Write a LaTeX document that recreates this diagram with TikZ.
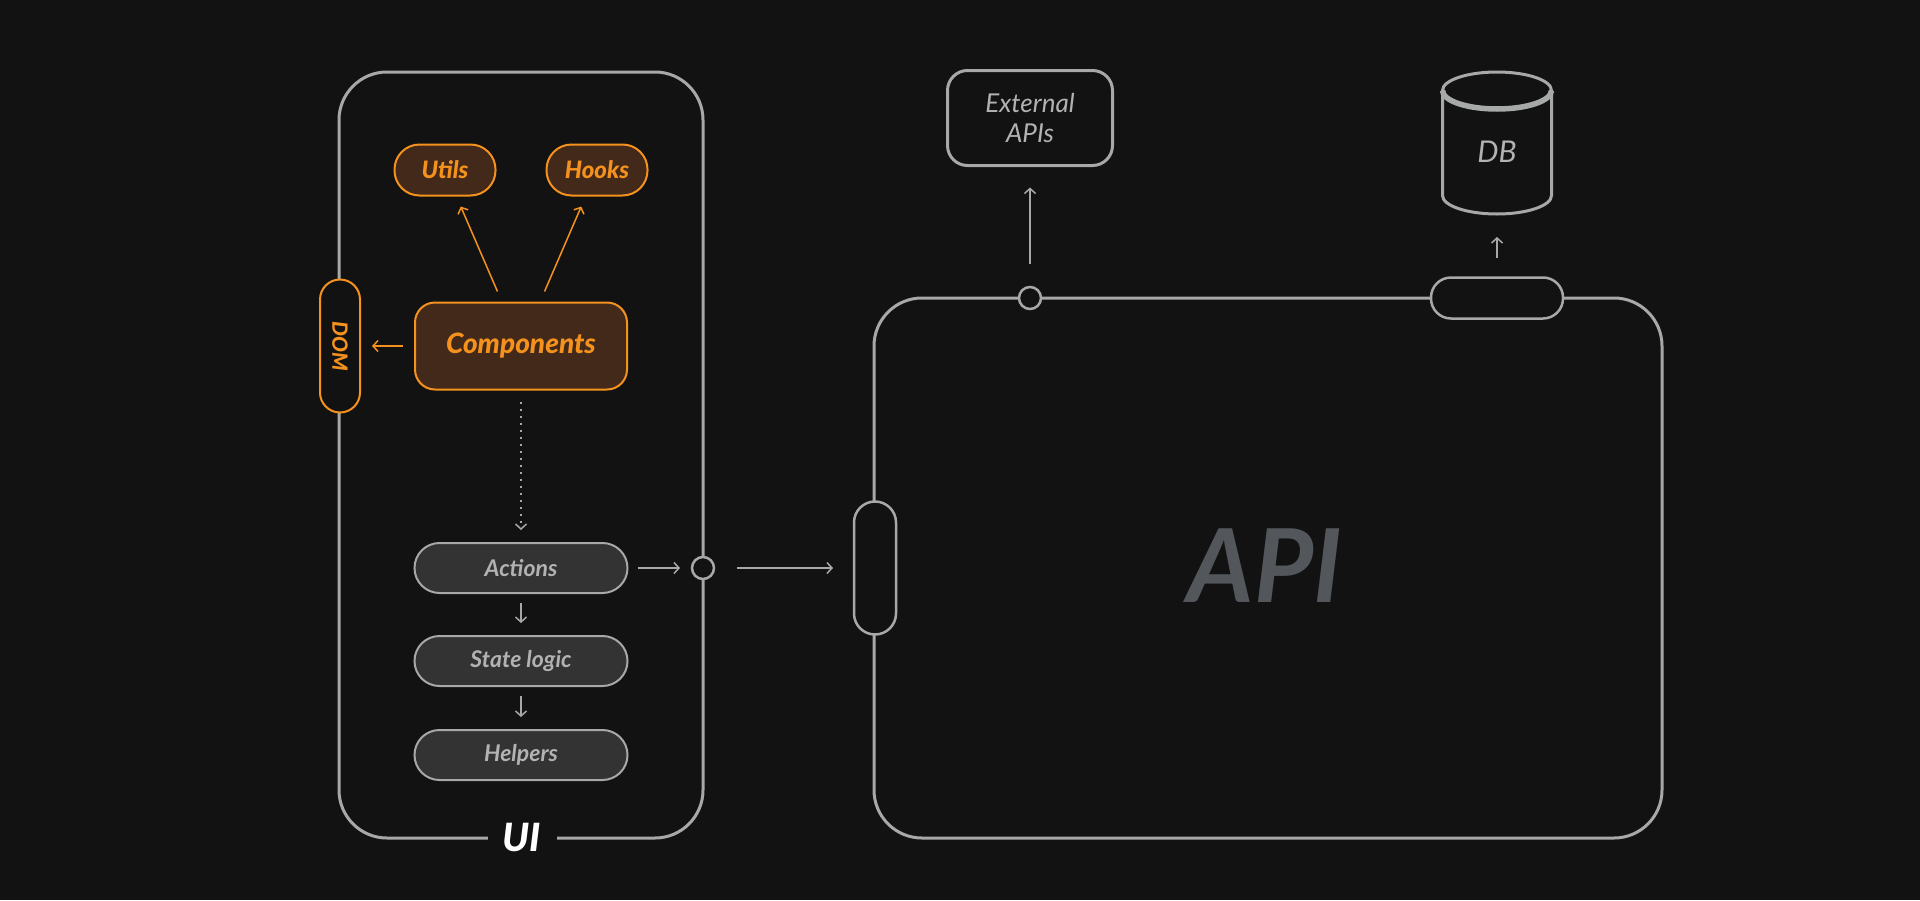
\documentclass[tikz,border=0pt]{standalone}
\usepackage{fontspec}
\setmainfont{Lato}
\IfFontExistsTF{Lato Black}{\newfontfamily\heavyfont{Lato Black}}{\newcommand\heavyfont{\bfseries}}
\usepackage{graphicx}
\usepackage{tikz}
\usetikzlibrary{arrows.meta, positioning}
\definecolor{arch-bg}{HTML}{121212}
\definecolor{arch-line}{HTML}{A7A9A8}
\definecolor{arch-orange}{HTML}{F5921E}
\definecolor{arch-brown}{HTML}{43291A}
\definecolor{arch-box}{HTML}{333333}
\definecolor{arch-text}{HTML}{B2B2B2}
\definecolor{arch-api}{HTML}{53575C}

\begin{document}
\begin{tikzpicture}[x=1pt, y=-1pt,
		frame/.style={
			draw=arch-line, line width=3pt,
			rounded corners=48pt
		},
		orangebox/.style={
			draw=arch-orange, fill=arch-brown,
			line width=2pt, inner sep=0pt, outer sep=0pt,
			text=arch-orange,
			font=\fontsize{24}{28}\selectfont\heavyfont\itshape
		},
		graybox/.style={
			draw=arch-line, fill=arch-box,
			line width=2pt, inner sep=0pt, outer sep=0pt,
			rounded corners=25pt,
			minimum width=213pt, minimum height=50pt,
			text=arch-text,
			font=\fontsize{23}{27}\selectfont\bfseries\itshape
		},
		pill/.style={
			draw=arch-line, fill=arch-bg,
			line width=2.5pt, inner sep=0pt, outer sep=0pt
		},
		port/.style={
			circle, draw=arch-line, fill=arch-bg,
			line width=2.5pt, minimum size=22pt,
			inner sep=0pt, outer sep=0pt
		},
		oarr/.style={
			-{Straight Barb[length=5pt,width=11pt]},
			draw=arch-orange, line width=1.5pt
		},
		garr/.style={
			-{Straight Barb[length=5pt,width=11pt]},
			draw=arch-line, line width=1.5pt
		}
		]
		
		% background
		\fill[arch-bg] (0,0) rectangle (1920,900);
		\useasboundingbox (0,0) rectangle (1920,900);
		
		% the two frames
		\draw[frame] (339,72) rectangle (703,838);
		\draw[frame] (874,298) rectangle (1662,838);
		
		% UI side
		\node[orangebox, rounded corners=25pt, minimum width=101pt, minimum height=51pt] (utils) at (445,170) {Utils};
		\node[orangebox, rounded corners=25pt, minimum width=101pt, minimum height=51pt] (hooks) at (597,170) {Hooks};
		\node[orangebox, rounded corners=20pt, minimum width=212pt, minimum height=87pt,
		font=\fontsize{28}{32}\selectfont\heavyfont\itshape] (comp) at (521,346) {Components};
		\node[orangebox, fill=arch-bg, rounded corners=20pt, minimum width=40pt, minimum height=133pt,
		font=\fontsize{21}{24}\selectfont\heavyfont\itshape] (dom) at (340,346) {\rotatebox{-90}{DOM}};
		
		\node[graybox] (actions) at (521,568) {Actions};
		\node[graybox] (state) at (521,661) {State logic};
		\node[graybox] (helpers) at (521,755) {Helpers};
		
		\node[port] (uiport) at (703,568) {};
		\node[fill=arch-bg, text=white, minimum width=69pt, inner sep=0pt,
		font=\fontsize{39}{42}\selectfont\heavyfont\itshape] (uilabel) at (522,837) {UI};
		
		% API side
		\node[pill, rounded corners=21pt, minimum width=42pt, minimum height=133pt] (apiin) at (875,568) {};
		\node[port] (topport) at (1030,298) {};
		\node[pill, rounded corners=20pt, minimum width=132pt, minimum height=41pt] (dbport) at (1497,298) {};
		\node[text=arch-api, font=\fontsize{102}{110}\selectfont\bfseries\itshape] (apilabel) at (1265,566) {API};
		
		% external services
		\node[draw=arch-line, line width=3pt, rounded corners=20pt,
		minimum width=165pt, minimum height=95pt, inner sep=0pt, outer sep=0pt,
		align=center, text=arch-text,
		font=\fontsize{26}{30}\selectfont\itshape] (ext) at (1030,118) {External\\APIs};
		
		\draw[arch-line, line width=3pt] (1442.5,90.5) -- (1442.5,195.5)
		arc[start angle=180, end angle=360, x radius=54.5pt, y radius=18.5pt] -- (1551.5,90.5);
		\draw[arch-line, line width=3pt] (1497,90.5) ellipse [x radius=54.5pt, y radius=18.5pt];
		\draw[arch-line, line width=5.5pt] (1442.5,90.5)
		arc[start angle=180, end angle=360, x radius=54.5pt, y radius=18.5pt];
		\node[minimum width=109pt, minimum height=124pt, inner sep=0pt, outer sep=0pt,
		text=arch-text, font=\fontsize{30}{32}\selectfont\itshape] (db) at (1497,152) {DB};
		
		% connectors
		\draw[oarr, shorten <=12pt, shorten >=12pt] (comp) -- (utils);
		\draw[oarr, shorten <=12pt, shorten >=12pt] (comp) -- (hooks);
		\draw[oarr, shorten <=12pt, shorten >=12pt] (comp) -- (dom);
		\draw[garr, dash pattern=on 2pt off 5pt, shorten <=12pt, shorten >=13pt] (comp) -- (actions);
		\draw[garr, shorten <=10pt, shorten >=13pt] (actions) -- (state);
		\draw[garr, shorten <=10pt, shorten >=13pt] (state) -- (helpers);
		\draw[garr, shorten <=10pt, shorten >=12pt] (actions) -- (uiport);
		\draw[garr, shorten <=23pt, shorten >=21pt] (uiport) -- (apiin);
		\draw[garr, shorten <=23pt, shorten >=22pt] (topport) -- (ext);
		\draw[garr, shorten <=20pt, shorten >=23pt] (dbport) -- (db);
		
	\end{tikzpicture}
\end{document}
